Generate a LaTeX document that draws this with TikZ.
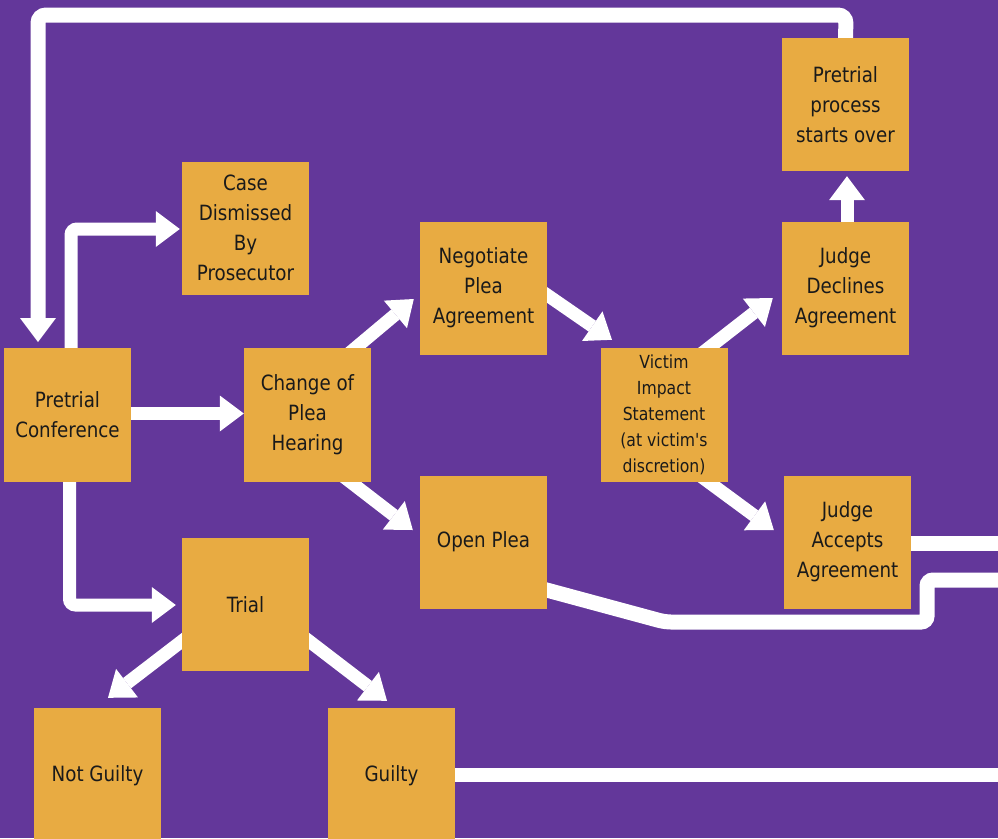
\documentclass[tikz,border=0pt]{standalone}
\usepackage{fontspec}
\newfontfamily\diagfont[FakeStretch=0.87]{DejaVu Sans}
\usetikzlibrary{arrows.meta,calc}
\pgfdeclarelayer{back}
\pgfdeclarelayer{edges}
\pgfsetlayers{back,edges,main}
\definecolor{bgpurple}{HTML}{63379A}
\definecolor{boxorange}{HTML}{E8AB42}
\definecolor{txt}{HTML}{1A1A1A}
\begin{document}
\begin{tikzpicture}[x=1pt,y=-1pt,
  box/.style={fill=boxorange,minimum width=127pt,minimum height=134pt,inner sep=0pt,text=txt,align=center,font=\diagfont\fontsize{21}{30}\selectfont},
  smallbox/.style={box,font=\diagfont\fontsize{18}{26}\selectfont},
  arr/.style={draw=white,line width=13pt,-{Triangle[width=36pt,length=24pt,line width=0pt]}},
  wline/.style={draw=white,line width=15pt}]
\begin{pgfonlayer}{back}
\fill[bgpurple] (0,0) rectangle (998,838);
\end{pgfonlayer}
\useasboundingbox (0,0) rectangle (998,838);

% boxes
\node[box] (pc) at (67.5,414.5) {Pretrial\\Conference};
\node[box,minimum height=133pt] (cd) at (245.5,228) {Case\\Dismissed\\By\\Prosecutor};
\node[box] (cp) at (307.5,414.5) {Change of\\Plea\\Hearing};
\node[box,minimum height=133pt] (np) at (483.5,288) {Negotiate\\Plea\\Agreement};
\node[box,minimum height=133pt] (op) at (483.5,542) {Open Plea};
\node[smallbox] (vi) at (664,414.5) {Victim\\Impact\\Statement\\(at victim's\\discretion)};
\node[box,minimum height=133pt] (jd) at (845.5,288) {Judge\\Declines\\Agreement};
\node[box,minimum height=133pt] (ps) at (845.5,104.5) {Pretrial\\process\\starts over};
\node[box,minimum height=133pt] (ja) at (847.5,542) {Judge\\Accepts\\Agreement};
\node[box,minimum height=133pt] (tr) at (245.5,604.5) {Trial};
\node[box,minimum height=136pt] (ng) at (97.5,776) {Not Guilty};
\node[box,minimum height=136pt] (gu) at (391.5,776) {Guilty};

% coordinates for bends and free ends
\coordinate (topR) at (846,15);
\coordinate (topL) at (38,15);
\coordinate (pcIn) at (38,342);
\coordinate (cdBend) at (71,229);
\coordinate (trBend) at (69.5,605);
\coordinate (opB1) at (665,622);
\coordinate (opB2) at (927,622);
\coordinate (opB3) at (927,580);
\coordinate (opEnd) at (998,580);
\coordinate (jaEnd) at (998,543);
\coordinate (guEnd) at (998,775);

% connectors (drawn under the boxes)
\begin{pgfonlayer}{edges}
\draw[arr,line width=15pt,rounded corners=8pt] ($(ps.north)+(0,4)$) -- (topR) -- (topL) -- (pcIn);
\draw[arr,rounded corners=6pt] ($(pc.north)+(3.5,4)$) -- (cdBend) -- ($(cd.west)+(-2,1)$);
\draw[arr] ($(pc.east)+(-4,-1)$) -- ($(cp.west)+(0,-1)$);
\draw[arr,rounded corners=6pt] ($(pc.south)+(2,-4)$) -- (trBend) -- ($(tr.west)+(-6,0.5)$);
\draw[arr] ($(cp.north)+(38,9)$) -- ($(np.west)+(-6,11)$);
\draw[arr] ($(cp.south)+(31,-9)$) -- ($(op.west)+(-7,-12)$);
\draw[arr] ($(np.east)+(-8,1.5)$) -- ($(vi.north)+(-52,-7.5)$);
\draw[arr] ($(vi.north)+(34,9)$) -- ($(jd.west)+(-9,10)$);
\draw[arr] ($(vi.south)+(32,-9)$) -- ($(ja.west)+(-10,-12)$);
\draw[arr] ($(jd.north)+(1.5,4)$) -- ($(ps.south)+(1.5,5)$);
\draw[arr] ($(tr.west)+(8,30.5)$) -- ($(ng.north)+(10.5,-10)$);
\draw[arr] ($(tr.east)+(-8,30.5)$) -- ($(gu.north)+(-4.5,-7)$);
\draw[wline] ($(ja.east)+(-4,1)$) -- (jaEnd);
\draw[wline,rounded corners=6pt] ($(op.east)+(-8,46)$) -- (opB1) -- (opB2) -- (opB3) -- (opEnd);
\draw[wline,line width=14pt] ($(gu.east)+(-4,-1)$) -- (guEnd);
\end{pgfonlayer}
\end{tikzpicture}
\end{document}
